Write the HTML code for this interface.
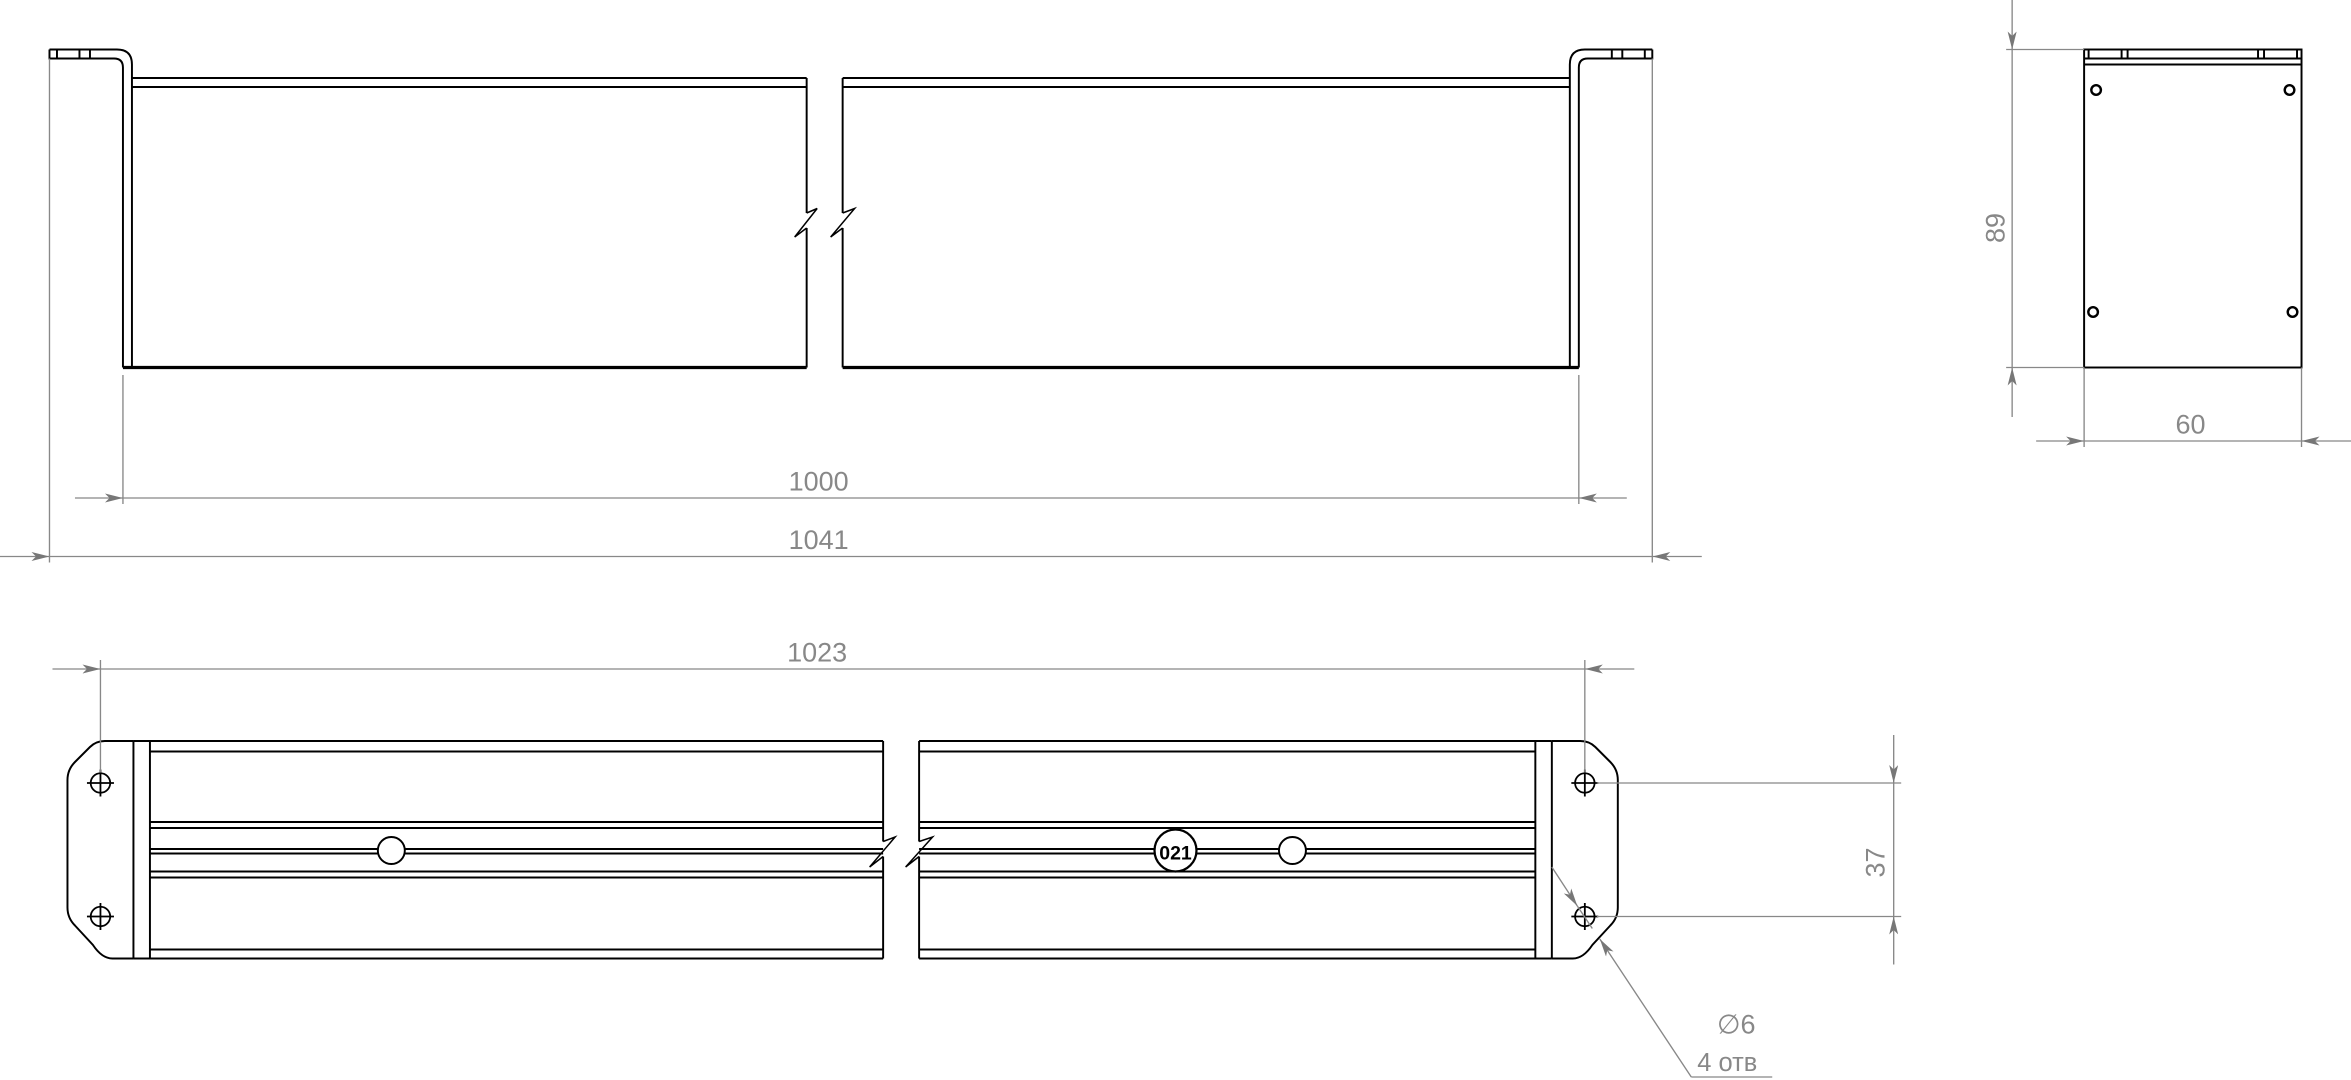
<!DOCTYPE html>
<html><head><meta charset="utf-8"><style>html,body{margin:0;padding:0;background:#fff}svg{display:block}</style></head>
<body>
<svg width="2351" height="1080" viewBox="0 0 1568 720" preserveAspectRatio="none" xmlns="http://www.w3.org/2000/svg">
<defs>
<marker id="a" viewBox="0 0 12 6" refX="12" refY="3" markerWidth="12" markerHeight="6" markerUnits="userSpaceOnUse" orient="auto"><path d="M0,0 L12,3 L0,6 L3,3 Z" fill="#777"/></marker>
</defs>
<g fill="none" stroke="#000" stroke-width="1.3">
<path d="M33,33 H78 Q88,33 88,43 V245"/>
<path d="M33,33 V39 H76 Q82,39 82,45 V245"/>
<path d="M38,33 V39 M53,33 V39 M60,33 V39"/>
<path d="M88,52 H538 M88,58 H538"/>
<path d="M538,52 V142 M538,152 V245"/>
<path d="M82,245 H538" stroke-width="2.2"/>
<path d="M1102,33 H1057 Q1047,33 1047,43 V245"/>
<path d="M1102,33 V39 H1059 Q1053,39 1053,45 V245"/>
<path d="M1097,33 V39 M1082,33 V39 M1075,33 V39"/>
<path d="M562,52 H1047 M562,58 H1047"/>
<path d="M562,52 V142 M562,152 V245"/>
<path d="M562,245 H1053" stroke-width="2.2"/>
</g>
<g fill="none" stroke="#000" stroke-width="1">
<path d="M538,142 L545,139 L530,158 L538,152"/>
<path d="M562,142 L570,139 L554,158 L562,152"/>
</g>
<g fill="none" stroke="#000" stroke-width="1.3">
<rect x="1390" y="33" width="145" height="212"/>
<path d="M1390,39 H1535 M1390,43 H1535"/>
<path d="M1393,33 V39 M1415,33 V39 M1419,33 V39 M1506,33 V39 M1510,33 V39 M1532,33 V39"/>
<circle cx="1398" cy="60" r="3.2" stroke-width="1.6"/>
<circle cx="1527" cy="60" r="3.2" stroke-width="1.6"/>
<circle cx="1396" cy="208" r="3.2" stroke-width="1.6"/>
<circle cx="1529" cy="208" r="3.2" stroke-width="1.6"/>
</g>
<g fill="none" stroke="#000" stroke-width="1.3">
<path d="M89,494 H70 Q64,494 60,498 L50,508 Q45,513 45,520 V605 Q45,612 50,617 L62,630 Q68,639 75,639 H89"/>
<path d="M89,494 V639 M100,494 V639"/>
<path d="M89,494 H589 M100,501 H589 M100,633 H589 M89,639 H589"/>
<path d="M100,548 H589 M100,552 H589 M100,566 H589 M100,569 H589 M100,581 H589 M100,585 H589"/>
<path d="M589,494 V561 M589,571 V639"/>
<path d="M1035,494 H1054 Q1060,494 1064,498 L1074,508 Q1079,513 1079,520 V605 Q1079,612 1074,617 L1062,630 Q1056,639 1049,639 H1035"/>
<path d="M1024,494 V639 M1035,494 V639"/>
<path d="M613,494 H1035 M613,501 H1024 M613,633 H1024 M613,639 H1035"/>
<path d="M613,548 H1024 M613,552 H1024 M613,566 H770 M798,566 H1024 M613,569 H770 M798,569 H1024 M613,581 H1024 M613,585 H1024"/>
<path d="M613,494 V561 M613,571 V639"/>
<circle cx="261" cy="567" r="9" fill="#fff"/>
<circle cx="862" cy="567" r="9" fill="#fff"/>
<circle cx="784" cy="567" r="14" fill="#fff" stroke-width="1.5"/>
</g>
<g fill="none" stroke="#000" stroke-width="1">
<path d="M589,561 L597,558 L580,578 L589,571"/>
<path d="M613,561 L622,558 L604,578 L613,571"/>
</g>
<text x="784" y="573" font-family="Liberation Sans, sans-serif" font-weight="bold" font-size="13" text-anchor="middle">021</text>
<g fill="none" stroke="#000" stroke-width="1.2">
<circle cx="67" cy="522" r="6.5"/><path d="M58,522 H76 M67,513 V531"/>
<circle cx="67" cy="611" r="6.5"/><path d="M58,611 H76 M67,602 V620"/>
<circle cx="1057" cy="522" r="6.5"/><path d="M1048,522 H1066 M1057,513 V531"/>
<circle cx="1057" cy="611" r="6.5"/><path d="M1048,611 H1066 M1057,602 V620"/>
</g>
<g fill="none" stroke="#888" stroke-width="0.9">
<path d="M82,250 V336 M1053,250 V336"/>
<path d="M82,332 H1053"/>
<path d="M50,332 H82" marker-end="url(#a)"/>
<path d="M1085,332 H1053" marker-end="url(#a)"/>
<path d="M33,39 V375 M1102,39 V375"/>
<path d="M33,371 H1102"/>
<path d="M0,371 H33" marker-end="url(#a)"/>
<path d="M1135,371 H1102" marker-end="url(#a)"/>
<path d="M1338,33 H1390 M1338,245 H1390"/>
<path d="M1342,33 V245"/>
<path d="M1342,0 V33" marker-end="url(#a)"/>
<path d="M1342,278 V245" marker-end="url(#a)"/>
<path d="M1390,245 V298 M1535,245 V298"/>
<path d="M1390,294 H1535"/>
<path d="M1358,294 H1390" marker-end="url(#a)"/>
<path d="M1568,294 H1535" marker-end="url(#a)"/>
<path d="M67,440 V515 M1057,440 V515"/>
<path d="M67,446 H1057"/>
<path d="M35,446 H67" marker-end="url(#a)"/>
<path d="M1090,446 H1057" marker-end="url(#a)"/>
<path d="M1065,522 H1268 M1065,611 H1268"/>
<path d="M1263,522 V611"/>
<path d="M1263,490 V522" marker-end="url(#a)"/>
<path d="M1263,643 V611" marker-end="url(#a)"/>
<path d="M1035,578 L1052,604" marker-end="url(#a)"/>
<path d="M1052,604 L1062,619"/>
<path d="M1128,718 L1067,626" marker-end="url(#a)"/>
<path d="M1128,718 H1182"/>
</g>
<g fill="#888" font-family="Liberation Sans, sans-serif" font-size="18" text-anchor="middle">
<text x="546" y="327">1000</text>
<text x="546" y="366">1041</text>
<text x="545" y="441">1023</text>
<text x="1461" y="289">60</text>
<text transform="translate(1337,152) rotate(-90)">89</text>
<text transform="translate(1257,575) rotate(-90)">37</text>
<text x="1158" y="689">∅6</text>
<text x="1152" y="714" font-size="17">4 отв</text>
</g>
</svg>
</body></html>
